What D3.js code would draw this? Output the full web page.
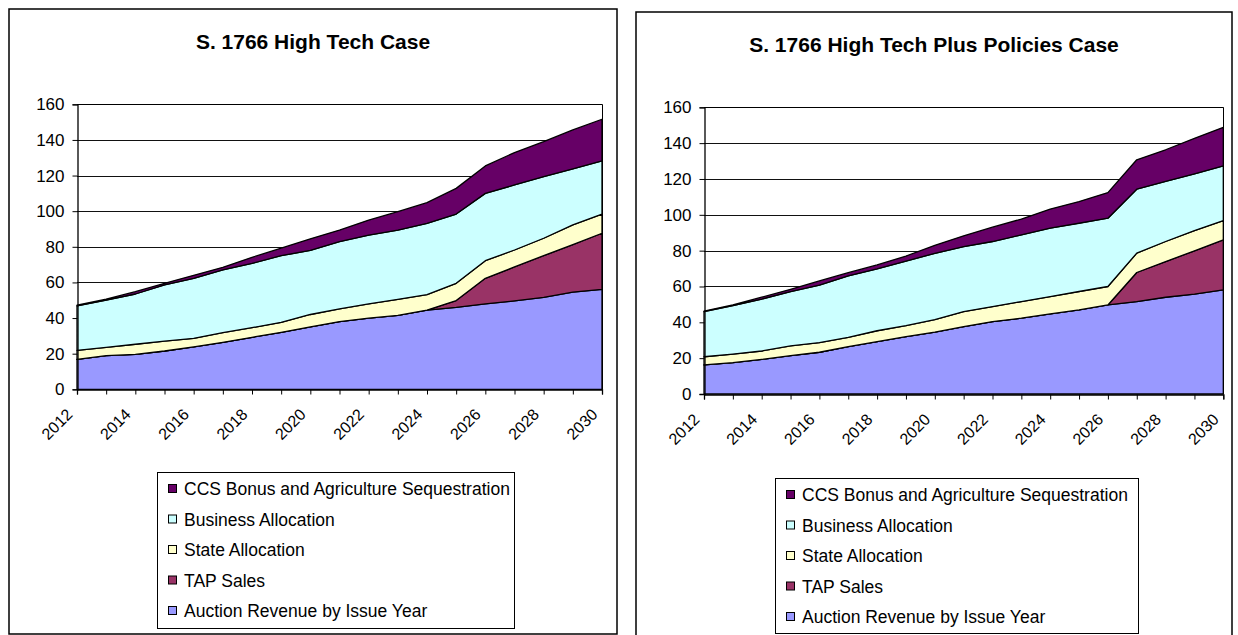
<!DOCTYPE html>
<html>
<head>
<meta charset="utf-8">
<title>S. 1766 allowance value</title>
<script src="https://d3js.org/d3.v7.min.js"></script>
<style>
  body { margin: 0; background: #fff; }
  svg text { font-family: "Liberation Sans", Arial, sans-serif; fill: #000; }
</style>
</head>
<body>
<script>
const years = [2012, 2013, 2014, 2015, 2016, 2017, 2018, 2019, 2020, 2021,
               2022, 2023, 2024, 2025, 2026, 2027, 2028, 2029, 2030];
const yearLabels = [2012, 2014, 2016, 2018, 2020, 2022, 2024, 2026, 2028, 2030];
const yTicks = [0, 20, 40, 60, 80, 100, 120, 140, 160];

// stacking order, bottom to top
const seriesKeys = ["auction", "tap", "state", "business", "ccs"];
const seriesNames = ["Auction Revenue by Issue Year", "TAP Sales", "State Allocation",
                     "Business Allocation", "CCS Bonus and Agriculture Sequestration"];
const seriesColors = ["#9999ff", "#993366", "#ffffcc", "#ccffff", "#660066"];

// S. 1766 High Tech Case
const htAuction  = [16.8, 18.9, 19.6, 21.5, 23.8, 26.4, 29.2, 32.0, 35.0, 38.0, 39.9, 41.5, 44.5, 46.0, 47.9, 49.6, 51.6, 54.5, 56.1];
const htTap      = [0, 0, 0, 0, 0, 0, 0, 0, 0, 0, 0, 0, 0, 3.8, 14.4, 19.1, 23.4, 26.7, 31.5];
const htState    = [5.1, 4.6, 5.7, 5.5, 4.8, 5.4, 5.4, 5.6, 7.0, 7.1, 8.0, 9.0, 8.6, 9.7, 9.9, 9.5, 9.8, 11.1, 10.8];
const htBusiness = [24.9, 26.6, 28.2, 31.6, 33.7, 35.2, 36.1, 37.4, 36.0, 37.8, 38.7, 38.9, 40.1, 38.9, 37.8, 36.5, 34.6, 31.4, 29.8];
const htCcs      = [0.4, 0.5, 1.3, 0.9, 1.7, 1.5, 3.4, 4.2, 6.5, 6.5, 8.4, 10.3, 11.6, 14.4, 15.4, 18.2, 19.6, 21.9, 23.4];

// S. 1766 High Tech Plus Policies Case
const hpAuction  = [16.2, 17.5, 19.3, 21.4, 23.3, 26.4, 29.2, 32.0, 34.5, 37.6, 40.4, 42.3, 44.7, 46.9, 49.7, 51.6, 54.0, 55.7, 58.1];
const hpTap      = [0, 0, 0, 0, 0, 0, 0, 0, 0, 0, 0, 0, 0, 0, 0, 16.2, 19.9, 24.2, 27.9];
const hpState    = [4.6, 4.8, 4.7, 5.4, 5.4, 5.2, 6.1, 6.1, 7.0, 8.4, 8.4, 9.3, 9.7, 10.3, 10.3, 10.8, 11.2, 11.3, 10.8];
const hpBusiness = [25.2, 27.0, 29.0, 30.3, 32.1, 34.3, 34.5, 36.1, 37.0, 36.3, 36.3, 37.2, 38.2, 38.1, 38.1, 35.7, 33.5, 31.7, 30.5];
const hpCcs      = [0.3, 0.4, 1.0, 1.3, 2.3, 1.8, 2.2, 2.8, 4.5, 6.0, 8.0, 8.8, 10.6, 12.1, 14.3, 16.4, 17.7, 19.8, 21.5];

const svg = d3.select("body").append("svg")
    .attr("width", 1238)
    .attr("height", 635);

const charts = [
    {
        title: "S. 1766 High Tech Case",
        values: [htAuction, htTap, htState, htBusiness, htCcs],
        frame: {x: 9, y: 9, w: 608, h: 625},
        plot: {left: 77, right: 602, top: 104.3, bottom: 389.3},
        titleY: 49,
        legend: {x: 157, y: 472, w: 357, h: 156}
    },
    {
        title: "S. 1766 High Tech Plus Policies Case",
        values: [hpAuction, hpTap, hpState, hpBusiness, hpCcs],
        frame: {x: 636, y: 12, w: 596, h: 640},
        plot: {left: 704, right: 1223.3, top: 107.3, bottom: 394},
        titleY: 52,
        legend: {x: 775, y: 478, w: 363, h: 155}
    }
];

charts.forEach(drawChart);

function drawChart(cfg) {
    const g = svg.append("g");
    const p = cfg.plot;

    g.append("rect")
        .attr("x", cfg.frame.x).attr("y", cfg.frame.y)
        .attr("width", cfg.frame.w).attr("height", cfg.frame.h)
        .attr("fill", "#fff")
        .attr("stroke", "#000")
        .attr("stroke-width", 1.5);

    g.append("text")
        .attr("x", cfg.frame.x + cfg.frame.w / 2)
        .attr("y", cfg.titleY)
        .attr("text-anchor", "middle")
        .attr("font-size", 21)
        .attr("font-weight", "bold")
        .text(cfg.title);

    const x = d3.scalePoint().domain(years).range([p.left, p.right]);
    const y = d3.scaleLinear().domain([0, 160]).range([p.bottom, p.top]);

    // gridlines
    g.append("g")
        .selectAll("line")
        .data(yTicks.slice(1))
        .join("line")
        .attr("x1", p.left).attr("x2", p.right)
        .attr("y1", d => Math.round(y(d)) + 0.5)
        .attr("y2", d => Math.round(y(d)) + 0.5)
        .attr("stroke", "#111")
        .attr("stroke-width", 1);

    const rows = years.map((yr, i) => {
        const r = {year: yr};
        seriesKeys.forEach((k, j) => { r[k] = cfg.values[j][i]; });
        return r;
    });
    const layers = d3.stack().keys(seriesKeys)(rows);

    const area = d3.area()
        .x(d => x(d.data.year))
        .y0(d => y(d[0]))
        .y1(d => y(d[1]));

    g.append("g")
        .selectAll("path")
        .data(layers)
        .join("path")
        .attr("d", area)
        .attr("fill", (d, i) => seriesColors[i])
        .attr("stroke", "#000")
        .attr("stroke-width", 1.3)
        .attr("stroke-linejoin", "round");

    // plot border (top and right)
    g.append("path")
        .attr("d", `M${p.left},${Math.round(p.top) + 0.5}H${Math.round(p.right) + 0.5}V${p.bottom}`)
        .attr("fill", "none")
        .attr("stroke", "#000");

    const yAxis = g.append("g")
        .attr("transform", `translate(${Math.round(p.left) + 0.5},0)`)
        .call(d3.axisLeft(y).tickValues(yTicks).tickSize(5).tickPadding(8));
    yAxis.selectAll("text")
        .attr("font-size", 17)
        .attr("font-family", null);

    const xAxis = g.append("g")
        .attr("transform", `translate(0,${Math.round(p.bottom) + 0.5})`)
        .call(d3.axisBottom(x).tickValues(years).tickSize(5)
            .tickFormat(d => yearLabels.includes(d) ? d : ""));
    xAxis.selectAll("text")
        .attr("font-size", 16)
        .attr("font-family", null)
        .attr("text-anchor", "end")
        .attr("dy", null)
        .attr("y", null)
        .attr("transform", "translate(-4,26) rotate(-45)");

    g.selectAll(".domain").attr("stroke", "#000").attr("stroke-width", 1.3);

    // legend, top entry is the top series
    const lg = cfg.legend;
    g.append("rect")
        .attr("x", lg.x + 0.5).attr("y", lg.y + 0.5)
        .attr("width", lg.w).attr("height", lg.h)
        .attr("fill", "#fff")
        .attr("stroke", "#000");

    const items = seriesNames.map((n, i) => ({name: n, color: seriesColors[i]})).reverse();
    const entry = g.append("g")
        .selectAll("g")
        .data(items)
        .join("g")
        .attr("transform", (d, i) => `translate(${lg.x + 11},${lg.y + 17 + i * 30.5})`);
    entry.append("rect")
        .attr("x", 0.5).attr("y", -4.5)
        .attr("width", 8).attr("height", 8)
        .attr("fill", d => d.color)
        .attr("stroke", "#000");
    entry.append("text")
        .attr("x", 16)
        .attr("dy", "0.35em")
        .attr("font-size", 17.5)
        .text(d => d.name);
}
</script>
</body>
</html>
